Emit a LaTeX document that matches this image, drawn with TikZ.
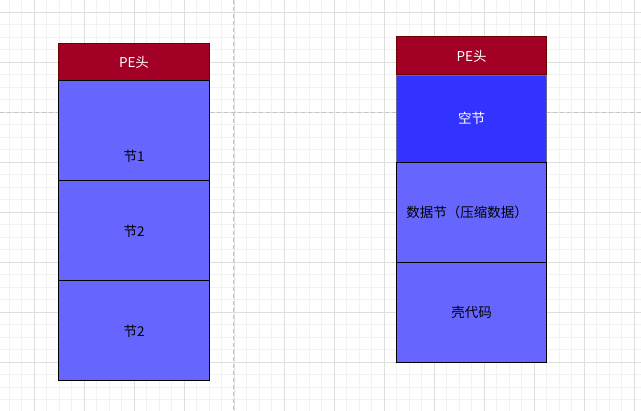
\documentclass[tikz,border=0pt]{standalone}
\usepackage{fontspec}
\setmainfont{Noto Sans CJK SC}
\definecolor{pered}{HTML}{A20025}
\definecolor{peredline}{HTML}{6F0000}
\definecolor{secblue}{HTML}{6666FF}
\definecolor{emptyblue}{HTML}{3333FF}
\definecolor{emptyline}{HTML}{6A6A90}
\definecolor{gridminor}{HTML}{F2F2F2}
\definecolor{gridmajor}{HTML}{DEDEDE}
\definecolor{guide}{HTML}{C4C4C4}
\tikzset{
  box/.style={draw=black, line width=1pt, fill=secblue, minimum width=151pt, inner sep=0pt, outer sep=0pt, font=\fontsize{13.5pt}{15pt}\selectfont},
  pehead/.style={box, draw=peredline, fill=pered, text=white},
  emptysec/.style={box, draw=emptyline, fill=emptyblue, text=white},
  boxtext/.style={font=\fontsize{13.5pt}{15pt}\selectfont, inner sep=0pt},
}
\begin{document}
\begin{tikzpicture}[x=1pt,y=-1pt]
\useasboundingbox (0,0) rectangle (641,411);
\fill[white] (0,0) rectangle (641,411);
% grid
\foreach \i in {0,...,51} \draw[gridminor, line width=1pt] ({9.3+12.5*\i},0) -- ({9.3+12.5*\i},411);
\foreach \i in {0,...,32} \draw[gridminor, line width=1pt] (0,{-0.2+12.5*\i}) -- (641,{-0.2+12.5*\i});
\foreach \i in {0,...,12} \draw[gridmajor, line width=1pt] ({34.3+50*\i},0) -- ({34.3+50*\i},411);
\foreach \i in {0,...,8} \draw[gridmajor, line width=1pt] (0,{12.3+50*\i}) -- (641,{12.3+50*\i});
% guides
\draw[guide, line width=1pt, dash pattern=on 4pt off 3pt] (233.7,0) -- (233.7,411);
\draw[guide, line width=1pt, dash pattern=on 4pt off 3pt] (0,112.3) -- (641,112.3);
% left column
\node[pehead, minimum height=37.7pt] (lhead) at (134,62.2) {PE头};
\node[box, minimum height=100pt] (lsec1) at (134,131) {};
\node[boxtext] (lsec1t) at (134,156) {节1};
\node[box, minimum height=100pt] (lsec2) at (134,231) {节2};
\node[box, minimum height=100pt] (lsec3) at (134,331) {节2};
% right column
\node[pehead, minimum width=150.4pt, minimum height=38pt] (rhead) at (471.5,56) {PE头};
\node[emptysec, minimum width=150.4pt, minimum height=87.3pt] (rempty) at (471.5,118.7) {空节};
\node[box, minimum width=150.4pt, minimum height=99.7pt] (rdata) at (471.5,212.2) {};
\node[boxtext] (rdatat) at (467,212.8) {数据节（压缩数据）};
\node[box, minimum width=150.4pt, minimum height=100.3pt] (rshell) at (471.5,312.2) {壳代码};
\end{tikzpicture}
\end{document}
